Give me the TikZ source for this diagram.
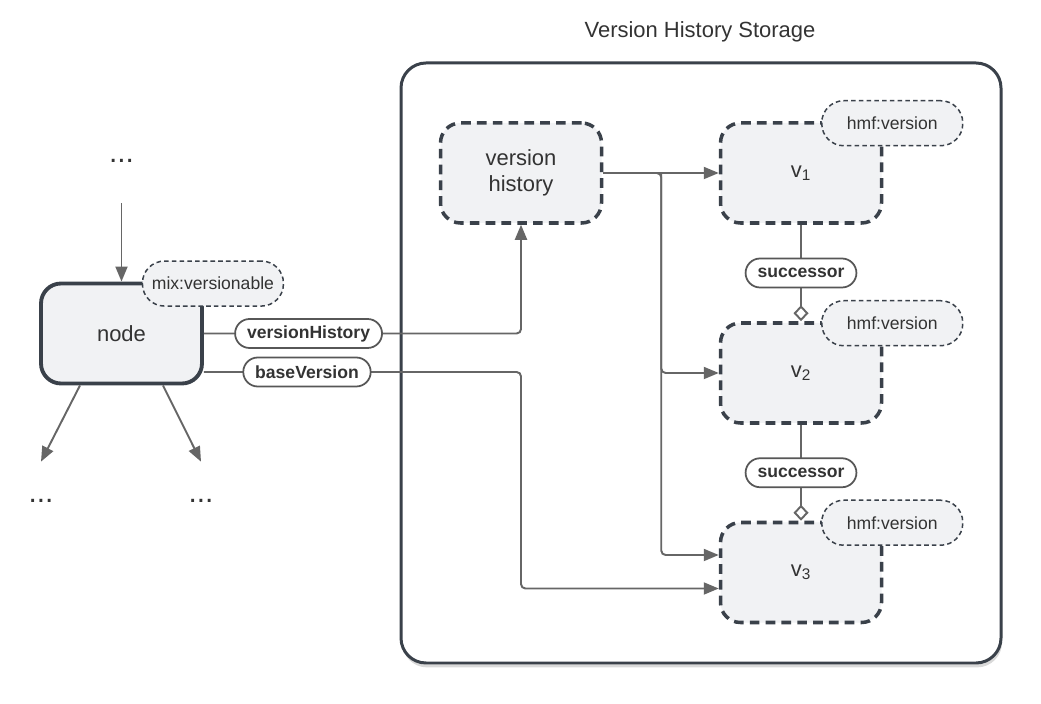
\documentclass[tikz,border=0pt]{standalone}
\usepackage{fontspec}
\setmainfont{Liberation Sans}
\usepackage[svgnames]{xcolor}
\usetikzlibrary{calc, arrows.meta, shadows}
\tikzset{>={Triangle[length=0.3cm, width=0.24cm]}}
\definecolor{ink}{HTML}{3A414A}
\definecolor{boxfill}{HTML}{F1F2F4}
\definecolor{wire}{HTML}{666666}
\definecolor{txt}{HTML}{333333}

\begin{document}
\begin{tikzpicture}[
  thing/.style={draw=ink, fill=boxfill, line width=2pt, rounded corners=0.4cm,
    minimum width=3.22cm, minimum height=2cm, align=center, text=txt,
    font=\fontsize{12.5}{15}\selectfont},
  ghost/.style={thing, dash pattern=on 5.5pt off 3.5pt},
  tag/.style={draw=ink, fill=boxfill, line width=0.85pt, dash pattern=on 2.6pt off 1.8pt,
    rounded corners=0.44cm, minimum width=2.82cm, minimum height=0.9cm, text=txt,
    font=\fontsize{10}{12}\selectfont},
  pill/.style={draw=wire!85!black, fill=white, line width=1pt, rounded corners=0.29cm,
    minimum height=0.58cm, inner xsep=6.8pt, inner ysep=0pt, text=txt,
    font=\bfseries\fontsize{10}{12}\selectfont},
  conn/.style={draw=wire, line width=1.1pt, rounded corners=2.5pt},
  etc/.style={inner sep=0pt, minimum height=1.56cm, text=txt, font=\fontsize{17}{20}\selectfont},
  store/.style={draw=ink, fill=white, line width=1.7pt, rounded corners=0.5cm,
    minimum width=12cm, minimum height=12cm,
    drop shadow={shadow xshift=0.6pt, shadow yshift=-2.5pt, opacity=0.3}}]
  \useasboundingbox (0,0) rectangle (20.82,14.06);

  % STORAGE
  \node[store] (store) at (14.02,6.8) {};
  \node[text=txt, font=\fontsize{12.5}{15}\selectfont] (title) at (14.0,13.42) {Version History Storage};

  % NODE
  \node[thing, line width=2.2pt] (jcr) at (2.43,7.39) {node};
  \node[tag] (mix) at ([shift={(0.18,-0.04)}]jcr.north east) {mix:versionable};
  \node[etc, minimum height=1.68cm] (up) at (2.43,10.84) {...};
  \node[etc] (dl) at (0.82,4.04) {...};
  \node[etc] (dr) at (4.02,4.04) {...};

  \draw[conn, ->] (up.south) -- (jcr.north);
  \draw[conn, ->] ([xshift=-0.83cm]jcr.south) -- (dl.north);
  \draw[conn, ->] ([xshift=0.83cm]jcr.south) -- (dr.north);

  % VERSIONS
  \node[ghost] (vh) at (10.42,10.6) {version\\history};
  \foreach \i/\y in {1/10.6, 2/6.6, 3/2.61} {
    \node[ghost] (v\i) at (16.02,\y) {v\textsubscript{\i}};
    \node[tag] (t\i) at ([shift={(0.18,-0.04)}]v\i.north east) {hmf:version};
  }

  % LINKS
  \coordinate (fork) at ([xshift=1.16cm]vh.east);
  \coordinate (bv) at ([yshift=-0.77cm]jcr.east);
  \draw[conn, ->] (vh.east) -- (v1.west);
  \draw[conn, ->] (vh.east) -- (fork) |- (v2.west);
  \draw[conn, ->] (fork) |- ([yshift=0.35cm]v3.west);
  \draw[conn, ->] (jcr.east) -- node[pill, pos=0.33] {versionHistory} (jcr.east -| vh.south) -- (vh.south);
  \draw[conn, ->] (bv) -- node[pill, pos=0.325] {baseVersion} (bv -| vh.south) |- ([yshift=-0.32cm]v3.west);

  \draw[conn, -{Diamond[open, fill=white, length=0.32cm, width=0.3cm]}] (v1.south) -- node[pill] {successor} (v2.north);
  \draw[conn, -{Diamond[open, fill=white, length=0.32cm, width=0.3cm]}] (v2.south) -- node[pill] {successor} (v3.north);
\end{tikzpicture}
\end{document}
